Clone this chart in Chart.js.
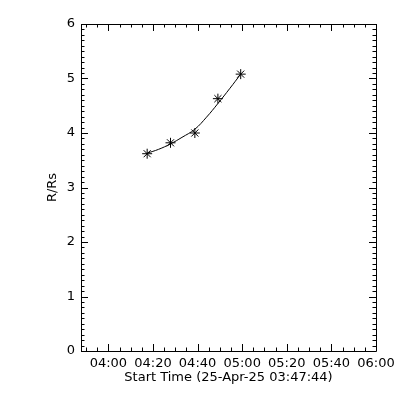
<!DOCTYPE html>
<html>
<head>
<meta charset="utf-8">
<script src="https://cdn.jsdelivr.net/npm/chart.js"></script>
<style>
  body { margin: 0; background: #fff; }
  #wrap { width: 400px; height: 400px; }
</style>
</head>
<body>
<div id="wrap"><canvas id="htChart" width="400" height="400"></canvas></div>
<script>
// observed heights (R/Rs) at each frame time
const obsTimes = ['04:17:24', '04:27:52', '04:38:47', '04:49:07', '04:59:20'];
const heights = [3.62, 3.82, 4.00, 4.63, 5.08];

// fitted curve
const fitTimes = ['04:17:24', '04:22:30', '04:27:52', '04:33:00', '04:38:48',
                  '04:44:00', '04:49:06', '04:54:30', '04:59:20'];
const fitHeights = [3.63, 3.70, 3.80, 3.92, 4.07, 4.29, 4.54, 4.82, 5.08];

const xTickLabels = ['04:00', '04:20', '04:40', '05:00', '05:20', '05:40', '06:00'];
const yTickLabels = ['0', '1', '2', '3', '4', '5', '6'];
const startTime = '03:47:44';
const endTime = '06:00:00';

// minutes relative to 04:00
function toMin(t) {
  const p = t.split(':').map(Number);
  return (p[0] - 4) * 60 + p[1] + (p[2] || 0) / 60;
}

const xTickValues = xTickLabels.map(toMin);
const FONT = { family: 'DejaVu Sans', size: 13 };

// IDL style box with inward ticks on all four sides
const boxTicks = {
  id: 'boxTicks',
  beforeDraw(chart) {
    const c = chart.ctx;
    c.save();
    c.fillStyle = '#fff';
    c.fillRect(0, 0, chart.width, chart.height);
    c.restore();
  },
  afterDraw(chart) {
    const c = chart.ctx;
    const a = chart.chartArea;
    const xs = chart.scales.x, ys = chart.scales.y;
    c.save();
    c.strokeStyle = '#000';
    c.lineWidth = 1;
    c.beginPath();
    c.rect(Math.round(a.left) + 0.5, Math.round(a.top) + 0.5,
           Math.round(a.right - a.left), Math.round(a.bottom - a.top));
    // x ticks every 5 min, major every 20
    for (let m = Math.ceil(xs.min / 5) * 5; m <= xs.max + 1e-6; m += 5) {
      const px = Math.round(xs.getPixelForValue(m)) + 0.5;
      const len = (m % 20 === 0) ? 7 : 3.5;
      c.moveTo(px, a.bottom); c.lineTo(px, a.bottom - len);
      c.moveTo(px, a.top); c.lineTo(px, a.top + len);
    }
    // y ticks every 0.1, major every 1
    for (let i = 0; i <= 60; i++) {
      const py = Math.round(ys.getPixelForValue(i / 10)) + 0.5;
      const len = (i % 10 === 0) ? 7 : 3.5;
      c.moveTo(a.left, py); c.lineTo(a.left + len, py);
      c.moveTo(a.right, py); c.lineTo(a.right - len, py);
    }
    c.stroke();
    c.restore();
  }
};

new Chart(document.getElementById('htChart'), {
  type: 'scatter',
  data: {
    datasets: [
      {
        label: 'fit',
        data: fitTimes.map((t, i) => ({ x: toMin(t), y: fitHeights[i] })),
        showLine: true,
        borderColor: '#000',
        borderWidth: 1,
        tension: 0.4,
        pointRadius: 0
      },
      {
        label: 'R/Rs',
        data: obsTimes.map((t, i) => ({ x: toMin(t), y: heights[i] })),
        pointStyle: 'star',
        pointRadius: 5,
        borderColor: '#000',
        backgroundColor: '#000',
        borderWidth: 1
      }
    ]
  },
  options: {
    responsive: false,
    animation: false,
    layout: { padding: { left: 45, top: 24, right: 24, bottom: 15 } },
    plugins: { legend: { display: false }, tooltip: { enabled: false } },
    scales: {
      x: {
        type: 'linear',
        min: toMin(startTime),
        max: toMin(endTime),
        afterBuildTicks: s => { s.ticks = xTickValues.map(v => ({ value: v })); },
        afterFit: s => { s.height = 34; },
        grid: { display: false, drawTicks: false },
        border: { display: false },
        ticks: {
          color: '#000', font: FONT, padding: 5, maxRotation: 0, autoSkip: false,
          callback: v => xTickLabels[xTickValues.indexOf(v)]
        },
        title: {
          display: true, text: 'Start Time (25-Apr-25 ' + startTime + ')',
          color: '#000', font: FONT, padding: 0
        }
      },
      y: {
        min: 0,
        max: 6,
        afterBuildTicks: s => { s.ticks = yTickLabels.map(v => ({ value: Number(v) })); },
        afterFit: s => { s.width = 36; },
        grid: { display: false, drawTicks: false },
        border: { display: false },
        ticks: { color: '#000', font: FONT, padding: 6, callback: v => String(v) },
        title: { display: true, text: 'R/Rs', color: '#000', font: FONT, padding: 0 }
      }
    }
  },
  plugins: [boxTicks]
});
</script>
</body>
</html>
